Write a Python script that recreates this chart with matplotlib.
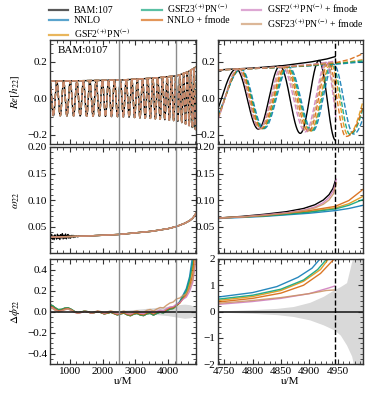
import numpy as np
import matplotlib
matplotlib.use("Agg")
import matplotlib.pyplot as plt
from matplotlib.lines import Line2D
from matplotlib.ticker import AutoMinorLocator

plt.rcParams["font.family"] = ["Liberation Serif", "DejaVu Serif"]
plt.rcParams["mathtext.fontset"] = "stix"
plt.rcParams["font.size"] = 8

models = ["NNLO", "GSF2", "GSF23", "NNLO_fm", "GSF2_fm", "GSF23_fm"]
labels = {
    "BAM": "BAM:107",
    "NNLO": "NNLO",
    "GSF2": "GSF2$^{(+)}$PN$^{(-)}$",
    "GSF23": "GSF23$^{(+)}$PN$^{(-)}$",
    "NNLO_fm": "NNLO + fmode",
    "GSF2_fm": "GSF2$^{(+)}$PN$^{(-)}$ + fmode",
    "GSF23_fm": "GSF23$^{(+)}$PN$^{(-)}$ + fmode",
}
colors = {"BAM": "black", "NNLO": "#0173b2", "GSF2": "#de8f05", "GSF23": "#029e73",
          "NNLO_fm": "#d55e00", "GSF2_fm": "#cc78bc", "GSF23_fm": "#ca9161"}

t_merger = 4946
t_window = [2500, 4250]

# ---------------- left column (full inspiral) ----------------
t_om_left = [400, 1000, 1500, 2000, 2500, 3000, 3500, 4000, 4250, 4500, 4650, 4750, 4845]
om_left = [0.030, 0.031, 0.032, 0.0335, 0.035, 0.038, 0.041, 0.046, 0.050, 0.056, 0.061, 0.066, 0.075]

t_amp_left = [400, 1500, 2500, 3500, 4250, 4600, 4845]
amp_left = [0.094, 0.097, 0.100, 0.110, 0.123, 0.145, 0.172]

# BAM frequency jitter at early times
t_noise = [400 + 25 * i for i in range(37)]
om_noise = [0.004, -0.003, 0.005, -0.004, 0.002, -0.005, 0.004, 0.0, -0.004, 0.005,
            -0.003, 0.003, -0.005, 0.004, -0.002, 0.006, -0.004, 0.003, -0.003, 0.005,
            -0.004, 0.002, 0.004, -0.003, 0.002, -0.003, 0.002, -0.001, 0.002, -0.002,
            0.001, -0.001, 0.001, 0.0, -0.001, 0.001, 0.0]

# phase difference: common eccentric wiggle + per-model trend
t_dl = [400, 480, 560, 650, 750, 850, 950, 1050, 1150, 1250, 1350, 1450, 1550, 1650,
        1750, 1850, 1950, 2050, 2150, 2250, 2350, 2450, 2550, 2650, 2750, 2850, 2950,
        3050, 3150, 3250, 3350, 3450, 3550, 3650, 3750, 3850, 3950, 4050, 4150, 4250,
        4350, 4450, 4550, 4650, 4750, 4845]
dphi_wiggle = [0.065, 0.055, 0.035, 0.018, 0.020, 0.032, 0.035, 0.020, 0.000, -0.012,
               -0.005, 0.004, -0.002, -0.014, -0.010, 0.000, -0.010, -0.022, -0.015, -0.006,
               -0.018, -0.030, -0.020, -0.012, -0.028, -0.036, -0.020, -0.014, -0.030, -0.036,
               -0.020, -0.016, -0.034, -0.020, -0.012, -0.022, -0.008, -0.002, -0.010, 0.000,
               -0.005, 0.003, -0.003, 0.002, 0.0, 0.0]
t_trend = [400, 1000, 2000, 3000, 3600, 3900, 4100, 4250, 4400, 4550, 4650, 4750, 4845]
dphi_trend = {
    "NNLO":     [0.0, 0.0, 0.0, -0.005, 0.0, 0.01, 0.03, 0.06, 0.12, 0.22, 0.33, 0.55, 0.95],
    "GSF2":     [0.0, 0.0, 0.0, -0.005, 0.0, 0.01, 0.03, 0.055, 0.10, 0.18, 0.27, 0.43, 0.80],
    "GSF23":    [0.0, 0.0, 0.0, -0.005, 0.0, 0.01, 0.03, 0.055, 0.11, 0.20, 0.30, 0.48, 0.85],
    "NNLO_fm":  [-0.015, -0.005, 0.0, 0.0, 0.01, 0.02, 0.04, 0.06, 0.10, 0.16, 0.23, 0.36, 0.70],
    "GSF2_fm":  [-0.025, -0.01, 0.005, 0.01, 0.02, 0.03, 0.05, 0.07, 0.10, 0.14, 0.19, 0.28, 0.50],
    "GSF23_fm": [-0.03, -0.01, 0.01, 0.02, 0.04, 0.06, 0.09, 0.12, 0.14, 0.17, 0.22, 0.31, 0.55],
}
t_band_left = [2000, 2500, 3000, 3500, 4000, 4300, 4500, 4650, 4750, 4845]
band_left_hi = [0.0, 0.01, 0.02, 0.035, 0.05, 0.065, 0.07, 0.065, 0.055, 0.045]
band_left_lo = [0.0, -0.01, -0.015, -0.025, -0.04, -0.055, -0.065, -0.06, -0.05, -0.045]

# ---------------- right column (merger zoom) ----------------
# times of successive extrema of Re[h22] (phase anchors)
re_anchor_t = {
    "BAM":      [4739, 4771, 4810, 4848, 4884, 4917, 4946],
    "NNLO":     [4739, 4780, 4820, 4864, 4906, 4943, 4978, 4995],
    "GSF2":     [4739, 4778, 4817, 4860, 4902, 4938, 4968, 4995],
    "GSF23":    [4739, 4779, 4818, 4862, 4904, 4940, 4972, 4995],
    "NNLO_fm":  [4739, 4777, 4815, 4858, 4899, 4934, 4964, 4995],
    "GSF2_fm":  [4739, 4774, 4812, 4852, 4893, 4930, 4948],
    "GSF23_fm": [4739, 4775, 4813, 4855, 4896, 4932, 4948],
}
re_anchor_start = {"BAM": -1.95, "NNLO": -2.2, "GSF2": -2.3, "GSF23": -2.25,
                   "NNLO_fm": -2.3, "GSF2_fm": -2.4, "GSF23_fm": -2.35}
re_anchor_end = {"BAM": None, "NNLO": 1.0, "GSF2": 1.5, "GSF23": 1.3,
                 "NNLO_fm": 1.4, "GSF2_fm": 2.2, "GSF23_fm": 2.0}

t_amp_r = {
    "BAM": [4739, 4800, 4850, 4900, 4930, 4946],
    "long": [4739, 4800, 4850, 4900, 4946, 4970, 4995],
    "short": [4739, 4800, 4850, 4900, 4948],
}
amp_r = {
    "BAM":      [0.156, 0.166, 0.178, 0.198, 0.215, 0.229],
    "NNLO":     [0.156, 0.163, 0.170, 0.178, 0.187, 0.193, 0.200],
    "GSF2":     [0.156, 0.163, 0.171, 0.180, 0.192, 0.200, 0.212],
    "GSF23":    [0.156, 0.163, 0.170, 0.179, 0.190, 0.197, 0.205],
    "NNLO_fm":  [0.156, 0.163, 0.171, 0.181, 0.195, 0.212, 0.245],
    "GSF2_fm":  [0.156, 0.164, 0.173, 0.185, 0.205],
    "GSF23_fm": [0.156, 0.164, 0.172, 0.183, 0.200],
}

t_om_short = [4739, 4780, 4820, 4860, 4890, 4910, 4925, 4935, 4942, 4946]
t_om_fm = [4739, 4780, 4820, 4860, 4890, 4910, 4925, 4935, 4943, 4948]
t_om_long = [4739, 4780, 4820, 4860, 4900, 4946, 4970, 4995]
om_r = {
    "BAM":      [0.066, 0.069, 0.073, 0.078, 0.084, 0.091, 0.100, 0.110, 0.122, 0.136],
    "NNLO":     [0.065, 0.067, 0.069, 0.072, 0.075, 0.080, 0.084, 0.090],
    "GSF2":     [0.066, 0.068, 0.070, 0.074, 0.078, 0.085, 0.093, 0.107],
    "GSF23":    [0.066, 0.068, 0.070, 0.073, 0.077, 0.083, 0.090, 0.101],
    "NNLO_fm":  [0.066, 0.068, 0.071, 0.075, 0.080, 0.088, 0.099, 0.120],
    "GSF2_fm":  [0.066, 0.068, 0.072, 0.076, 0.081, 0.087, 0.095, 0.105, 0.118, 0.139],
    "GSF23_fm": [0.066, 0.068, 0.071, 0.075, 0.080, 0.085, 0.092, 0.100, 0.112, 0.132],
}

t_dphi_r = {
    "NNLO":     [4739, 4800, 4843, 4880, 4905, 4919],
    "GSF23":    [4739, 4800, 4850, 4890, 4915, 4931],
    "GSF2":     [4739, 4800, 4850, 4890, 4920, 4934],
    "NNLO_fm":  [4739, 4800, 4850, 4890, 4920, 4944],
    "GSF2_fm":  [4739, 4800, 4850, 4900, 4935, 4945],
    "GSF23_fm": [4739, 4800, 4850, 4900, 4930, 4944],
}
dphi_r = {
    "NNLO":     [0.55, 0.72, 0.95, 1.30, 1.65, 2.0],
    "GSF23":    [0.47, 0.62, 0.85, 1.20, 1.60, 2.0],
    "GSF2":     [0.42, 0.57, 0.80, 1.15, 1.60, 2.0],
    "NNLO_fm":  [0.36, 0.50, 0.70, 1.00, 1.45, 2.0],
    "GSF2_fm":  [0.27, 0.38, 0.50, 0.68, 0.90, 0.97],
    "GSF23_fm": [0.31, 0.42, 0.53, 0.68, 0.80, 0.82],
}
t_band_r = [4739, 4800, 4843, 4872, 4901, 4925, 4944, 4955, 4966, 4975, 4980, 4995]
band_r_hi = [0.02, 0.07, 0.12, 0.19, 0.35, 0.58, 0.83, 0.95, 1.10, 1.90, 2.20, 2.20]
band_r_lo = [-0.02, -0.07, -0.12, -0.19, -0.32, -0.51, -0.70, -0.90, -1.28, -1.70, -2.20, -2.20]

# ---------------- figure ----------------
W, H = 374, 399
fig = plt.figure(figsize=(W / 100, H / 100), dpi=100)


def box(x0, x1, y0, y1):
    return [x0 / W, 1 - y1 / H, (x1 - x0) / W, (y1 - y0) / H]


rows = [(40, 144), (147, 253), (259, 364)]
axL = [fig.add_axes(box(50, 196, *r)) for r in rows]
axR = [fig.add_axes(box(218, 363, *r)) for r in rows]

lw = 1.0
al = 0.85

# left: Re[h22]
t_f = np.linspace(400, 4845, 6000)
om_f = np.interp(t_f, t_om_left, om_left)
phi_f = np.concatenate([[0.0], np.cumsum(0.5 * (om_f[1:] + om_f[:-1]) * np.diff(t_f))])
A_f = np.interp(t_f, t_amp_left, amp_left)
ax = axL[0]
ax.plot(t_f, A_f * np.cos(phi_f), color="black", lw=lw)
ax.plot(t_f, A_f, color="black", lw=lw)
for m in models:
    ph = phi_f - np.interp(t_f, t_trend, dphi_trend[m])
    ax.plot(t_f, A_f * np.cos(ph), color=colors[m], lw=lw, ls="--", alpha=al)
    ax.plot(t_f, A_f, color=colors[m], lw=lw, ls="--", alpha=al)

# left: omega
ax = axL[1]
t_bam_om = np.concatenate([t_noise, [t for t in t_om_left if t > 1300]])
om_bam = np.concatenate([np.interp(t_noise, t_om_left, om_left) + np.array(om_noise),
                         [o for t, o in zip(t_om_left, om_left) if t > 1300]])
ax.plot(t_bam_om, om_bam, color="black", lw=lw)
for m in models:
    ax.plot(t_om_left, om_left, color=colors[m], lw=lw, alpha=al)

# left: dphi
ax = axL[2]
ax.fill_between(t_band_left, band_left_lo, band_left_hi, color="#d9d9d9", lw=0)
for m in models:
    ax.plot(t_dl, np.array(dphi_wiggle) + np.interp(t_dl, t_trend, dphi_trend[m]),
            color=colors[m], lw=lw, alpha=al)
ax.axhline(0, color="#222222", lw=1.2)

for ax in axL:
    for tw in t_window:
        ax.axvline(tw, color="#8c8c8c", lw=1.0)
    ax.set_xlim(400, 4845)

# right: Re[h22]
ax = axR[0]
for m in ["BAM"] + models:
    ts = re_anchor_t[m]
    n_ext = len(ts) - 1 if re_anchor_end[m] is not None else len(ts)
    ph = [re_anchor_start[m]] + [np.pi * k for k in range(n_ext - 1)]
    if re_anchor_end[m] is not None:
        ph.append(np.pi * (n_ext - 2) + re_anchor_end[m])
    tt = np.linspace(ts[0], ts[-1], 800)
    key = "BAM" if m == "BAM" else ("short" if m in ("GSF2_fm", "GSF23_fm") else "long")
    A = np.interp(tt, t_amp_r[key], amp_r[m])
    p = np.interp(tt, ts, ph)
    ls = "-" if m == "BAM" else "--"
    a = 1.0 if m == "BAM" else al
    ax.plot(tt, A * np.cos(p), color=colors[m], lw=lw, ls=ls, alpha=a)
    ax.plot(tt, A, color=colors[m], lw=lw, ls=ls, alpha=a)

# right: omega
ax = axR[1]
ax.plot(t_om_short, om_r["BAM"], color="black", lw=lw)
for m in models:
    tt = t_om_fm if m in ("GSF2_fm", "GSF23_fm") else t_om_long
    ax.plot(tt, om_r[m], color=colors[m], lw=lw, alpha=al)

# right: dphi
ax = axR[2]
ax.fill_between(t_band_r, band_r_lo, band_r_hi, color="#d9d9d9", lw=0)
for m in models:
    ax.plot(t_dphi_r[m], dphi_r[m], color=colors[m], lw=lw, alpha=al)
ax.axhline(0, color="#222222", lw=1.2)

for ax in axR:
    ax.axvline(t_merger, color="black", lw=1.0, ls="--")
    ax.set_xlim(4739, 4995)

# axes cosmetics
for col in (axL, axR):
    col[0].set_ylim(-0.25, 0.32)
    col[0].set_yticks([-0.2, 0.0, 0.2])
    col[1].set_ylim(0.0, 0.2)
    col[1].set_yticks([0.05, 0.10, 0.15, 0.20])
    for ax in col[:2]:
        ax.tick_params(labelbottom=False)
axL[2].set_ylim(-0.5, 0.5)
axL[2].set_yticks([-0.4, -0.2, 0.0, 0.2, 0.4])
axR[2].set_ylim(-2, 2)
axR[2].set_yticks([-2, -1, 0, 1, 2])
for ax in axL:
    ax.set_xticks([1000, 2000, 3000, 4000])
for ax in axR:
    ax.set_xticks([4750, 4800, 4850, 4900, 4950])

for ax in axL + axR:
    ax.xaxis.set_minor_locator(AutoMinorLocator())
    ax.yaxis.set_minor_locator(AutoMinorLocator())
    ax.tick_params(which="both", direction="in", top=True, right=True, color="#333333",
                   labelsize=8, pad=2)
    ax.tick_params(which="major", length=3.5, width=0.8)
    ax.tick_params(which="minor", length=2, width=0.6)
    for s in ax.spines.values():
        s.set_color("#333333")
        s.set_linewidth(1.0)

axL[0].set_ylabel(r"$Re[h_{22}]$")
axL[1].set_ylabel(r"$\omega_{22}$")
axL[2].set_ylabel(r"$\Delta\phi_{22}$")
for ax in axL:
    ax.yaxis.set_label_coords(-0.19, 0.5)
axL[2].set_xlabel("u/M", labelpad=1)
axR[2].set_xlabel("u/M", labelpad=1)
axL[0].text(0.05, 0.94, "BAM:0107", transform=axL[0].transAxes, va="top", ha="left", fontsize=8)

leg_handles = [Line2D([], [], color=colors[k], lw=1.6, alpha=0.65) for k in ["BAM"] + models]
leg_labels = [labels["BAM"]] + [labels[m] for m in models]
fig.legend(leg_handles, leg_labels, loc="upper left", bbox_to_anchor=(45 / W, 1.006),
           ncol=3, frameon=False, fontsize=7, handlelength=2.0, labelspacing=0.12,
           columnspacing=1.2, handletextpad=0.6, borderaxespad=0.0)

fig.savefig("out.png", dpi=100)
